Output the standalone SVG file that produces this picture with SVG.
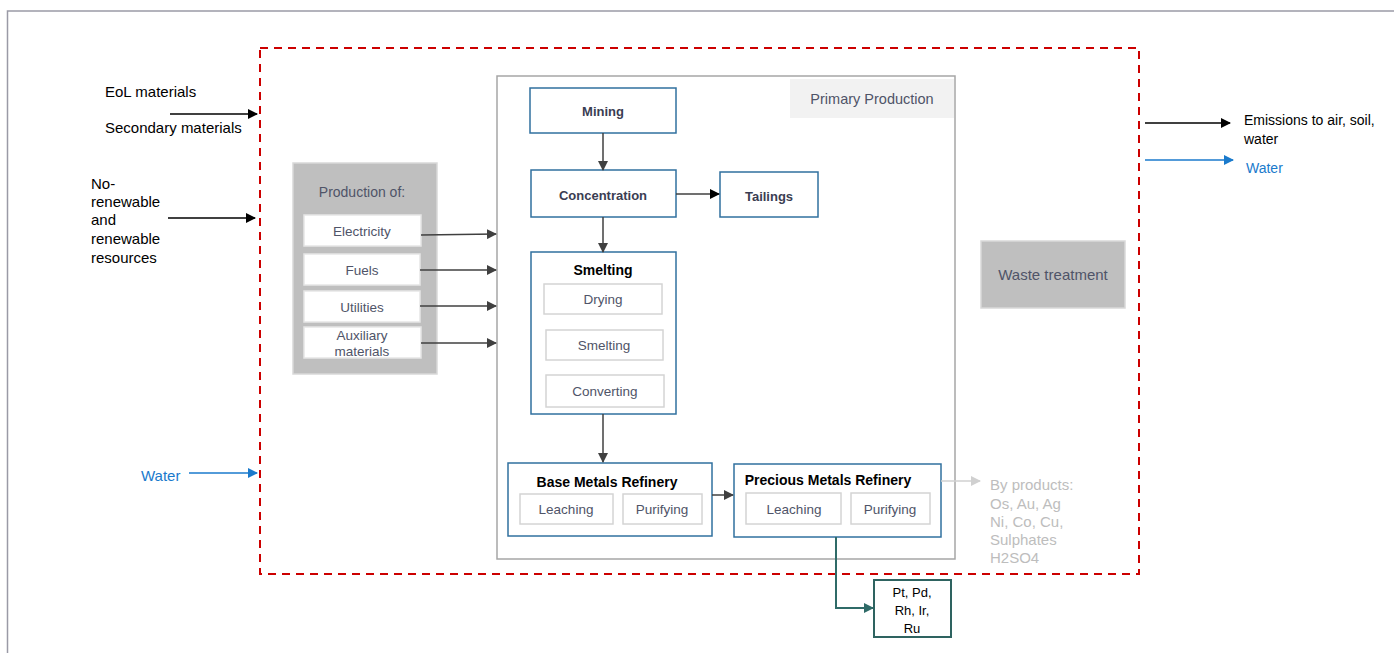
<svg xmlns="http://www.w3.org/2000/svg" width="1394" height="653" viewBox="0 0 1394 653">
<style>
text{font-family:"Liberation Sans",Arial,sans-serif}
.blk{fill:#000;font-size:14px}
.lft{fill:#000;font-size:15px}
.blue{fill:#1a7acc;font-size:14px}
.lbl{fill:#4f5468;font-size:13.5px;text-anchor:middle}
.bold{fill:#3a3d52;font-size:13px;font-weight:bold;text-anchor:middle}
.hdr{fill:#000;font-size:14px;font-weight:bold;text-anchor:middle}
.node{fill:#fff;stroke:#31709f;stroke-width:1.5}
.sub{fill:#fff;stroke:#d4d4d4;stroke-width:1.5}
.grey{fill:#bfbfbf;stroke:#d9d9d9;stroke-width:1.5}
.by{fill:#bdbdbd;font-size:15px}
.c{fill:none;stroke:#404040;stroke-width:1.5}
</style>
<defs>
<marker id="ah" viewBox="0 0 10 10" refX="9" refY="5" markerWidth="10" markerHeight="10" markerUnits="userSpaceOnUse" orient="auto"><path d="M0,0 L10,5 L0,10 z" fill="#404040"/></marker>
<marker id="ak" viewBox="0 0 10 10" refX="9" refY="5" markerWidth="10" markerHeight="10" markerUnits="userSpaceOnUse" orient="auto"><path d="M0,0 L10,5 L0,10 z" fill="#000"/></marker>
<marker id="ab" viewBox="0 0 10 10" refX="9" refY="5" markerWidth="10" markerHeight="10" markerUnits="userSpaceOnUse" orient="auto"><path d="M0,0 L10,5 L0,10 z" fill="#1a7acc"/></marker>
<marker id="ag" viewBox="0 0 10 10" refX="9" refY="5" markerWidth="10" markerHeight="10" markerUnits="userSpaceOnUse" orient="auto"><path d="M0,0 L10,5 L0,10 z" fill="#d0d0d0"/></marker>
<marker id="at" viewBox="0 0 10 10" refX="9" refY="5" markerWidth="10" markerHeight="10" markerUnits="userSpaceOnUse" orient="auto"><path d="M0,0 L10,5 L0,10 z" fill="#2f6b68"/></marker>
</defs>
<rect width="1394" height="653" fill="#fff"/>
<path d="M7.5,653 V11 H1394" fill="none" stroke="#9a9aa6" stroke-width="1.5"/>
<rect id="boundary" x="260" y="48" width="879" height="526" fill="none" stroke="#cc0000" stroke-width="2" stroke-dasharray="8,6"/>

<g id="primary-production">
<rect x="497" y="76" width="458" height="483" fill="#fff" stroke="#a6a6a6" stroke-width="1.5"/>
<rect x="790" y="79" width="164" height="39" fill="#f2f2f2"/>
<text class="lbl" x="872" y="104" style="font-size:14.5px">Primary Production</text>
</g>

<g id="inputs-left">
<text class="lft" x="105" y="97">EoL materials</text>
<text class="lft" x="105" y="133">Secondary materials</text>
<text class="lft" x="91" y="189">No-</text>
<text class="lft" x="91" y="207">renewable</text>
<text class="lft" x="91" y="225">and</text>
<text class="lft" x="91" y="244">renewable</text>
<text class="lft" x="91" y="263">resources</text>
<text class="blue" x="141" y="481" style="font-size:15px">Water</text>
</g>

<g id="outputs-right">
<text class="blk" x="1244" y="125">Emissions to air, soil,</text>
<text class="blk" x="1244" y="144">water</text>
<text class="blue" x="1246" y="173">Water</text>
</g>

<g id="production-of">
<rect class="grey" x="293" y="163" width="144" height="211"/>
<text class="lbl" x="362" y="197" style="font-size:14px">Production of:</text>
</g>
<g id="electricity"><rect class="sub" x="304" y="215" width="117" height="31" style="stroke:#e6e6e6"/><text class="lbl" x="362" y="236">Electricity</text></g>
<g id="fuels"><rect class="sub" x="304" y="254" width="116" height="31" style="stroke:#e6e6e6"/><text class="lbl" x="362" y="275">Fuels</text></g>
<g id="utilities"><rect class="sub" x="304" y="291" width="116" height="31" style="stroke:#e6e6e6"/><text class="lbl" x="362" y="312">Utilities</text></g>
<g id="auxiliary"><rect class="sub" x="304" y="327" width="117" height="31" style="stroke:#e6e6e6"/><text class="lbl" x="362" y="340">Auxiliary</text><text class="lbl" x="362" y="356">materials</text></g>

<g id="mining"><rect class="node" x="530" y="88" width="146" height="45"/><text class="bold" x="603" y="116">Mining</text></g>
<g id="concentration"><rect class="node" x="531" y="170" width="145" height="47"/><text class="bold" x="603" y="200">Concentration</text></g>
<g id="tailings"><rect class="node" x="720" y="172" width="98" height="45"/><text class="bold" x="769" y="201">Tailings</text></g>

<g id="smelting">
<rect class="node" x="531" y="252" width="145" height="162"/>
<text class="hdr" x="603" y="275">Smelting</text>
<rect class="sub" x="544" y="284" width="118" height="30"/><text class="lbl" x="603" y="304">Drying</text>
<rect class="sub" x="546" y="330" width="117" height="30"/><text class="lbl" x="604" y="350">Smelting</text>
<rect class="sub" x="546" y="375" width="118" height="32"/><text class="lbl" x="605" y="396">Converting</text>
</g>

<g id="base-metals-refinery">
<rect class="node" x="508" y="463" width="204" height="73"/>
<text class="hdr" x="607" y="487">Base Metals Refinery</text>
<rect class="sub" x="520" y="494" width="93" height="30"/><text class="lbl" x="566" y="514">Leaching</text>
<rect class="sub" x="623" y="494" width="79" height="30"/><text class="lbl" x="662" y="514">Purifying</text>
</g>

<g id="precious-metals-refinery">
<rect class="node" x="734" y="464" width="207" height="73"/>
<text class="hdr" x="828" y="485">Precious Metals Refinery</text>
<rect class="sub" x="746" y="493" width="95" height="31"/><text class="lbl" x="794" y="514">Leaching</text>
<rect class="sub" x="851" y="493" width="79" height="31"/><text class="lbl" x="890" y="514">Purifying</text>
</g>

<g id="pgm-product">
<rect x="874" y="580" width="77" height="57" fill="#fff" stroke="#2e6360" stroke-width="2"/>
<text x="912" y="597" style="font-size:13px;text-anchor:middle;fill:#000">Pt, Pd,</text>
<text x="912" y="615" style="font-size:13px;text-anchor:middle;fill:#000">Rh, Ir,</text>
<text x="912" y="633" style="font-size:13px;text-anchor:middle;fill:#000">Ru</text>
</g>

<g id="by-products">
<text class="by" x="990" y="490">By products:</text>
<text class="by" x="990" y="509">Os, Au, Ag</text>
<text class="by" x="990" y="527">Ni, Co, Cu,</text>
<text class="by" x="990" y="545">Sulphates</text>
<text class="by" x="990" y="563">H2SO4</text>
</g>

<g id="waste-treatment">
<rect class="grey" x="981" y="241" width="144" height="67"/>
<text class="lbl" x="1053" y="280" style="font-size:15px">Waste treatment</text>
</g>

<g id="connectors">
<line x1="170" y1="114" x2="257" y2="114" stroke="#000" stroke-width="1.5" marker-end="url(#ak)"/>
<line x1="168" y1="218" x2="255" y2="218" stroke="#000" stroke-width="1.5" marker-end="url(#ak)"/>
<line x1="189" y1="473" x2="257" y2="473" stroke="#1a7acc" stroke-width="1.5" marker-end="url(#ab)"/>
<line x1="1145" y1="123" x2="1230" y2="123" stroke="#000" stroke-width="1.5" marker-end="url(#ak)"/>
<line x1="1145" y1="160" x2="1233" y2="160" stroke="#1a7acc" stroke-width="1.5" marker-end="url(#ab)"/>
<line class="c" x1="421" y1="235" x2="496" y2="234" marker-end="url(#ah)"/>
<line class="c" x1="420" y1="270" x2="496" y2="270" marker-end="url(#ah)"/>
<line class="c" x1="420" y1="306" x2="496" y2="306" marker-end="url(#ah)"/>
<line class="c" x1="421" y1="343" x2="496" y2="343" marker-end="url(#ah)"/>
<line class="c" x1="603" y1="133" x2="603" y2="170" marker-end="url(#ah)"/>
<line class="c" x1="676" y1="194" x2="719" y2="194" stroke="#000" marker-end="url(#ak)"/>
<line class="c" x1="603" y1="217" x2="603" y2="252" marker-end="url(#ah)"/>
<line class="c" x1="603" y1="414" x2="603" y2="462" marker-end="url(#ah)"/>
<line class="c" x1="712" y1="495" x2="733" y2="495" marker-end="url(#ah)"/>
<line x1="941" y1="481" x2="980" y2="481" stroke="#d0d0d0" stroke-width="1.5" marker-end="url(#ag)"/>
<path d="M836,537 V608 H873" fill="none" stroke="#2f6b68" stroke-width="2" marker-end="url(#at)"/>
</g>
</svg>
